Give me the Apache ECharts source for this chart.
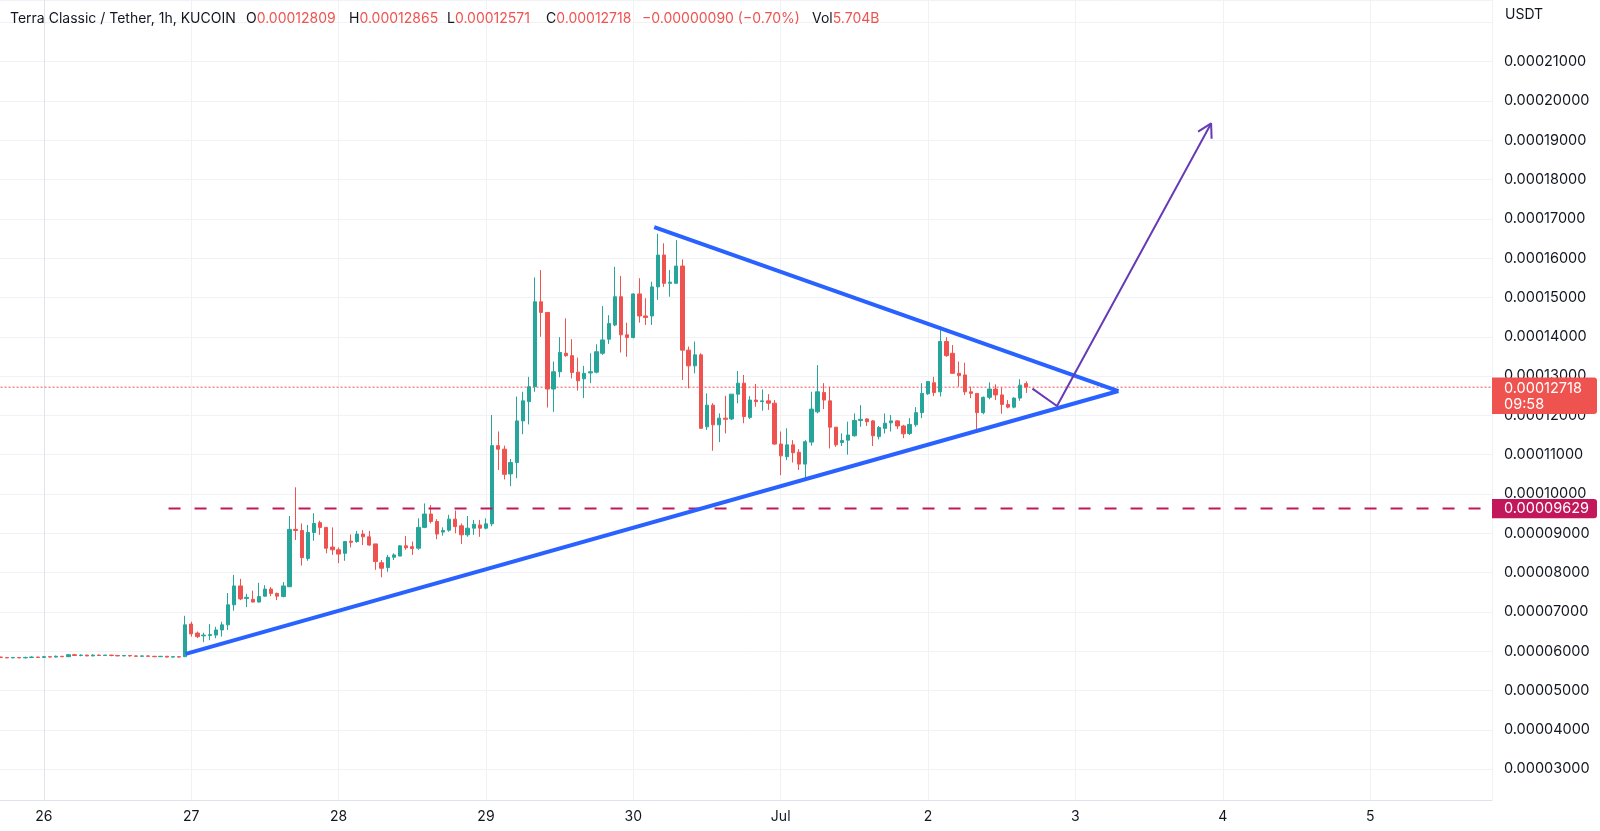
<!DOCTYPE html>
<html><head><meta charset="utf-8">
<script src="https://cdn.jsdelivr.net/npm/echarts@6/dist/echarts.min.js"></script>
<style>html,body{margin:0;padding:0;background:#fff}#c{width:1600px;height:831px}</style>
</head><body><div id="c"></div>
<script>
// ---- data (prices in units of 1e-5 USDT), hourly candles; hour 0 = 26 Jun 00:00 ----
const PRICE_UNIT = 1e-5;
const firstHour = -7;
const open = [
5.85,5.84,5.83,5.84,5.83,5.84,5.85,5.84,5.86,5.85,
5.87,5.86,5.91,5.89,5.90,5.88,5.90,5.89,5.90,5.89,
5.88,5.89,5.88,5.87,5.88,5.87,5.86,5.87,5.85,5.86,
5.86,6.69,6.46,6.39,6.40,6.41,6.54,6.67,7.18,7.66,
7.34,7.32,7.25,7.40,7.58,7.47,7.39,7.64,9.10,9.07,
8.36,9.02,9.27,9.15,8.65,8.58,8.49,8.80,8.79,8.98,
8.91,8.73,8.25,8.13,8.39,8.42,8.68,8.66,8.62,9.15,
9.49,9.30,9.03,9.08,9.36,9.19,8.96,9.13,9.21,9.13,
9.24,11.23,11.14,10.51,10.80,11.86,12.35,12.73,14.89,14.62,
12.67,13.11,13.58,13.52,13.10,12.93,13.08,13.10,13.58,13.94,
14.30,15.02,14.05,13.98,15.09,14.53,14.53,15.27,16.08,15.36,
15.36,15.80,13.66,13.26,13.54,11.71,12.26,11.76,11.93,11.91,
12.54,12.82,11.95,12.39,12.35,12.37,12.31,11.27,10.95,11.25,
11.06,10.76,11.32,12.09,12.58,12.37,11.70,11.31,11.37,11.48,
11.87,11.91,11.86,11.46,11.67,11.81,11.86,11.73,11.54,11.76,
12.07,12.55,12.83,12.60,13.88,13.58,13.07,13.03,12.60,12.56,
12.07,12.46,12.67,12.52,12.28,12.21,12.44,12.809];
const high = [
5.86,5.85,5.85,5.85,5.86,5.87,5.86,5.88,5.87,5.89,
5.88,5.93,5.93,5.92,5.91,5.92,5.92,5.91,5.91,5.90,
5.90,5.90,5.89,5.89,5.89,5.88,5.88,5.88,5.87,5.87,
6.90,6.75,6.50,6.47,6.69,6.62,6.75,7.48,7.94,7.84,
7.46,7.54,7.74,7.68,7.63,7.49,7.76,9.44,10.17,9.25,
9.21,9.51,9.32,9.16,9.15,8.64,8.79,8.97,9.06,9.08,
9.06,8.73,8.32,8.45,8.49,8.70,8.93,8.79,9.38,9.76,
9.72,9.36,9.15,9.47,9.58,9.25,9.44,9.34,9.34,9.38,
12.01,11.59,11.23,10.89,12.48,12.60,12.98,15.51,15.70,14.62,
13.37,13.99,14.47,13.94,13.47,13.26,13.58,13.81,14.78,14.55,
15.78,15.55,14.36,15.11,15.49,14.98,15.40,16.62,16.38,15.70,
16.46,15.97,13.75,13.88,13.58,12.56,12.31,12.05,12.50,12.54,
13.13,13.03,12.49,12.80,12.66,12.54,12.39,11.59,11.67,11.37,
11.14,11.37,12.60,13.28,12.82,12.73,11.70,11.54,11.84,12.05,
12.26,11.93,11.88,11.73,12.05,12.01,11.88,11.76,11.93,12.21,
12.82,12.86,12.98,14.26,13.99,13.79,13.37,13.34,12.73,12.56,
12.48,12.84,12.79,12.71,12.39,12.46,12.92,12.865];
const low = [
5.83,5.82,5.82,5.82,5.82,5.83,5.83,5.83,5.84,5.84,
5.85,5.85,5.88,5.87,5.87,5.87,5.88,5.88,5.87,5.87,
5.87,5.86,5.86,5.86,5.86,5.85,5.85,5.84,5.84,5.84,
5.85,6.37,6.33,6.23,6.28,6.33,6.37,6.54,7.03,7.30,
7.12,7.24,7.24,7.39,7.40,7.30,7.37,7.63,8.83,8.18,
8.30,8.81,8.96,8.49,8.45,8.24,8.30,8.64,8.76,8.70,
8.68,8.07,7.88,8.02,8.32,8.42,8.58,8.45,8.58,9.13,
9.25,8.85,8.94,9.04,9.00,8.73,8.91,8.96,8.91,9.10,
9.18,10.61,10.37,10.20,10.40,11.52,11.77,12.60,14.00,12.20,
12.09,12.97,13.49,12.94,12.63,12.44,12.82,13.07,13.54,13.82,
14.27,13.60,13.49,13.96,14.36,14.30,14.30,14.94,15.27,15.02,
15.36,12.90,12.69,13.07,11.67,11.63,11.10,11.32,11.54,11.88,
12.31,11.80,11.91,12.22,12.12,12.14,11.25,10.48,10.86,10.80,
10.61,10.36,11.23,12.05,12.16,11.16,11.20,11.22,11.00,11.46,
11.71,11.73,11.22,11.39,11.54,11.59,11.65,11.42,11.50,11.71,
11.93,12.52,12.49,12.48,13.49,13.07,12.73,12.52,12.44,11.63,
12.03,12.41,12.39,12.04,12.18,12.18,12.37,12.571];
const close = [
5.84,5.83,5.84,5.83,5.84,5.85,5.84,5.86,5.85,5.87,
5.86,5.91,5.89,5.90,5.88,5.90,5.89,5.90,5.89,5.88,
5.89,5.88,5.87,5.88,5.87,5.86,5.87,5.85,5.86,5.85,
6.67,6.44,6.37,6.41,6.42,6.54,6.67,7.18,7.66,7.33,
7.37,7.25,7.39,7.58,7.47,7.40,7.66,9.10,9.07,8.38,
9.02,9.25,9.15,8.62,8.58,8.47,8.79,8.77,8.98,8.91,
8.70,8.28,8.11,8.39,8.45,8.68,8.63,8.61,9.15,9.49,
9.30,8.98,9.07,9.36,9.17,8.96,9.13,9.23,9.13,9.24,
11.23,11.14,10.50,10.80,11.86,12.37,12.73,14.89,14.62,12.67,
13.11,13.60,13.52,13.09,12.88,13.07,13.11,13.62,13.92,14.34,
15.02,14.05,13.98,15.09,14.53,14.49,15.27,16.08,15.36,15.39,
15.80,13.66,13.26,13.54,11.67,12.26,11.76,11.93,11.90,12.54,
12.82,11.97,12.39,12.35,12.37,12.31,11.27,10.97,11.25,11.05,
10.76,11.33,12.16,12.60,12.39,11.70,11.25,11.36,11.50,11.87,
11.90,11.84,11.48,11.69,11.80,11.86,11.73,11.53,11.77,12.07,
12.56,12.86,12.58,13.88,13.52,13.07,13.01,12.60,12.56,12.07,
12.46,12.67,12.52,12.28,12.21,12.44,12.77,12.718];

// day labels, one per 24h starting at hour -24
const dayLabels = ['25','26','27','28','29','30','Jul','2','3','4','5'];
const priceTicks = [3,4,5,6,7,8,9,10,11,12,13,14,15,16,17,18,19,20,21];

// drawings [hour, price(1e-5)]
const triangleUpper = [[99.4, 16.79], [175.0, 12.62]];
const triangleLower = [[23.1, 5.93], [175.0, 12.62]];
const projection = [[161.0, 12.68], [165.0, 12.24], [190.1, 19.43]];
const arrowHead = [[187.98, 19.22], [190.1, 19.43], [190.18, 19.04]];
const levelPrice = 9.629;
const levelStartHour = 20.3;
const lastPrice = 12.718;

// ---- layout constants ----
const PX_PER_HOUR = 6.14, X_DAY26 = 43.9, PLOT_RIGHT = 1492, PLOT_BOTTOM = 800;
const Y_TOP_VAL = 22.570, Y_BOT_VAL = 2.213;
const xMin = -24;
const xMax = xMin + (PLOT_RIGHT - (X_DAY26 + xMin * PX_PER_HOUR)) / PX_PER_HOUR;
const gridLeft = X_DAY26 + xMin * PX_PER_HOUR;

const S = PRICE_UNIT;
const candles = open.map((o, i) => [firstHour + i, o * S, close[i] * S, low[i] * S, high[i] * S]);
const toPts = arr => arr.map(p => [p[0], p[1] * S]);

const UP = '#26a69a', DOWN = '#ef5350', FONT = 'Inter, "Noto Sans", sans-serif', TXT = '#131722';

const option = {
  animation: false,
  backgroundColor: '#ffffff',
  grid: { left: gridLeft, right: 1600 - PLOT_RIGHT, top: 0, bottom: 831 - PLOT_BOTTOM, containLabel: false, outerBoundsMode: 'none' },
  xAxis: {
    type: 'value', min: xMin, max: xMax, interval: 24,
    axisLine: { show: true, onZero: false, lineStyle: { color: '#e0e3eb', width: 1 } },
    axisTick: { show: false },
    splitLine: { show: true, lineStyle: { color: '#f0f2f5', width: 1 } },
    axisLabel: {
      color: TXT, fontFamily: FONT, fontSize: 14, margin: 10, showMaxLabel: false,
      formatter: v => { const k = Math.round((v - xMin) / 24); return Math.abs(v - (xMin + 24 * k)) < 1e-6 ? (dayLabels[k] || '') : ''; }
    }
  },
  yAxis: {
    type: 'value', position: 'right', min: Y_BOT_VAL * S, max: Y_TOP_VAL * S, splitNumber: 20, scale: true,
    axisLine: { show: true, lineStyle: { color: '#e0e3eb', width: 1 } },
    axisTick: { show: false },
    splitLine: { show: true, lineStyle: { color: '#f0f2f5', width: 1 } },
    axisLabel: {
      color: TXT, fontFamily: FONT, fontSize: 14.5, margin: 12, showMinLabel: false, showMaxLabel: false,
      padding: [3, 0, 0, 0],
      formatter: v => { const u = v / S; const r = Math.round(u); return (Math.abs(u - r) < 1e-4 && priceTicks.includes(r)) ? (r * S).toFixed(8) : ''; }
    }
  },
  series: [
    {
      type: 'line', data: toPts([[xMin, lastPrice], [xMax, lastPrice]]), showSymbol: false, silent: true,
      lineStyle: { color: '#ef5350', width: 1, type: [2, 2] }, z: 1
    },
    {
      type: 'candlestick', data: candles, encode: { x: 0, y: [1, 2, 3, 4] },
      barWidth: 3.8,
      itemStyle: { color: UP, color0: DOWN, borderColor: UP, borderColor0: DOWN, borderWidth: 1 }, z: 2
    },
    {
      type: 'line', data: toPts([[levelStartHour, levelPrice], [xMax, levelPrice]]), showSymbol: false, silent: true,
      lineStyle: { color: '#c2185b', width: 2, type: [12, 14] }, z: 3
    },
    { type: 'line', data: toPts(triangleUpper), showSymbol: false, lineStyle: { color: '#2962ff', width: 4 }, z: 4 },
    { type: 'line', data: toPts(triangleLower), showSymbol: false, lineStyle: { color: '#2962ff', width: 4 }, z: 4 },
    { type: 'line', data: toPts(projection), showSymbol: false, lineStyle: { color: '#673ab7', width: 2 }, z: 5 },
    { type: 'line', data: toPts(arrowHead), showSymbol: false, lineStyle: { color: '#673ab7', width: 2 }, z: 5 }
  ]
};

const chart = echarts.init(document.getElementById('c'), null, { renderer: 'canvas' });
chart.setOption(option);

const yCur = chart.convertToPixel({ yAxisIndex: 0 }, lastPrice * S);
const yLvl = chart.convertToPixel({ yAxisIndex: 0 }, levelPrice * S);
const legendY = 18.5;
const F14 = '14px ' + FONT;
const tf = (x, y, text, color, extra) => Object.assign({ type: 'text', x, y, style: { text, fill: color, font: F14, textVerticalAlign: 'middle' }, z: 100 }, extra || {});
const kv = (x, k, v) => ({ type: 'text', x, y: legendY, z: 100, style: { text: '{k|' + k + '}{v|' + v + '}', textVerticalAlign: 'middle', rich: { k: { fill: TXT, font: F14 }, v: { fill: DOWN, font: F14 } } } });
chart.setOption({
  graphic: [
    tf(10, legendY, 'Terra Classic / Tether, 1h, KUCOIN', TXT),
    kv(246, 'O', (open[open.length - 1] * S).toFixed(8)),
    kv(349, 'H', (high[high.length - 1] * S).toFixed(8)),
    kv(447, 'L', (low[low.length - 1] * S).toFixed(8)),
    kv(546, 'C', (close[close.length - 1] * S).toFixed(8)),
    tf(642, legendY, '\u22120.00000090 (\u22120.70%)', DOWN),
    kv(812, 'Vol', '5.704B'),
    tf(1505, 14.5, 'USDT', TXT),
    { type: 'rect', z: 100, shape: { x: PLOT_RIGHT, y: yCur - 9.7, width: 105, height: 36.5, r: [0, 3, 3, 0] }, style: { fill: '#ef5350' } },
    { type: 'text', x: 1504, y: yCur + 1, z: 101, style: { text: (lastPrice * S).toFixed(8), fill: '#ffffff', font: '14.5px ' + FONT, textVerticalAlign: 'middle' } },
    { type: 'text', x: 1504, y: yCur + 17.5, z: 101, style: { text: '09:58', fill: '#ffffff', font: '14.5px ' + FONT, textVerticalAlign: 'middle' } },
    { type: 'rect', z: 100, shape: { x: PLOT_RIGHT, y: yLvl - 9.6, width: 105, height: 19.2, r: [0, 3, 3, 0] }, style: { fill: '#c2185b' } },
    { type: 'text', x: 1504, y: yLvl + 0.5, z: 101, style: { text: (levelPrice * S).toFixed(8), fill: '#ffffff', font: '14.5px ' + FONT, textVerticalAlign: 'middle' } }
  ]
});
</script>
</body></html>
